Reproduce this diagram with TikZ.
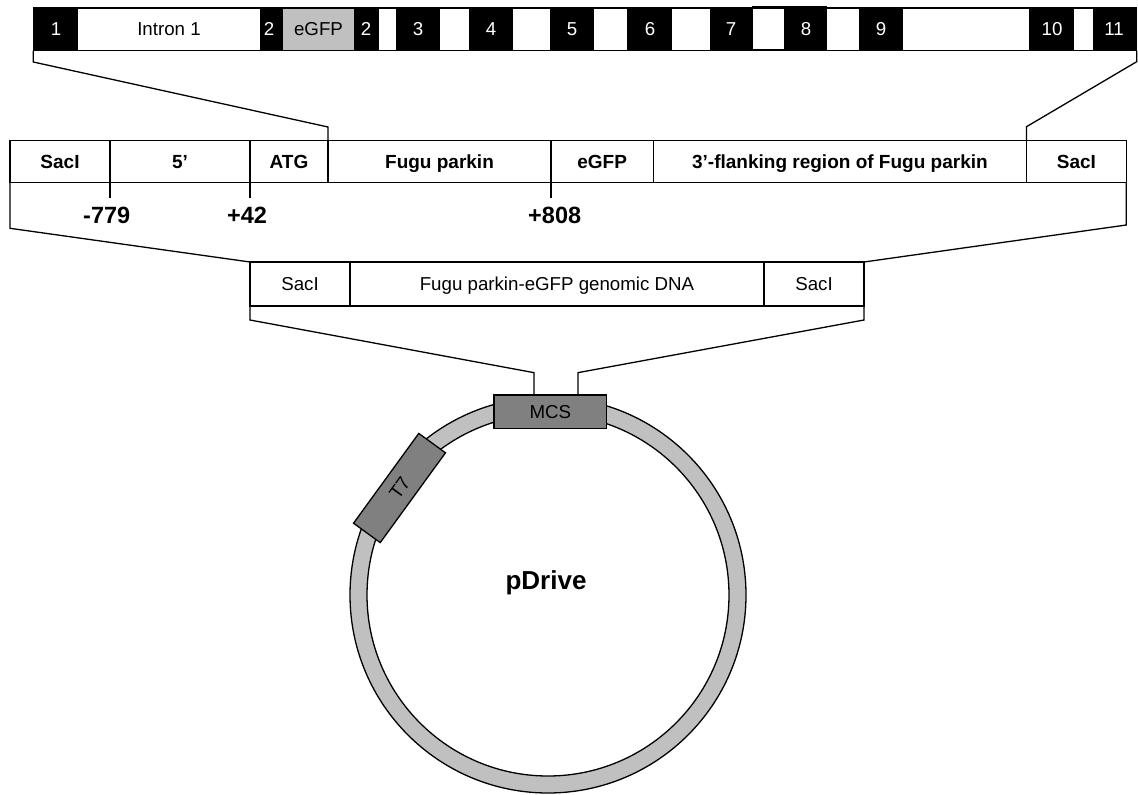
\documentclass[tikz,border=0pt]{standalone}
\usepackage{fontspec}
\setmainfont{Liberation Sans}
\usetikzlibrary{calc}
\definecolor{lgray}{HTML}{C0C0C0}
\definecolor{dgray}{HTML}{808080}
\begin{document}
\begin{tikzpicture}[x=1pt,y=-1pt,
  ln/.style={line width=1.3pt},
  blackbar/.style={fill=black,draw=none,anchor=north west,inner sep=0pt,outer sep=0pt},
  wseg/.style={fill=white,draw=none,anchor=north west,inner sep=0pt,outer sep=0pt,minimum height=41pt,text height=13.4pt,text depth=0pt,font=\fontsize{18.7}{20}\selectfont},
  gseg/.style={wseg,fill=lgray},
  wnum/.style={text=white,inner sep=0pt,text height=13.4pt,text depth=0pt,font=\fontsize{18.7}{20}\selectfont},
  cell/.style={draw,ln,anchor=north west,inner sep=0pt,outer sep=0pt,minimum height=42pt,text height=13.6pt,text depth=0pt,font=\fontsize{19}{21}\selectfont\bfseries},
  bcell/.style={cell,minimum height=44pt,text height=13.4pt,font=\fontsize{18.7}{20}\selectfont},
  poslbl/.style={inner sep=0pt,text height=16.8pt,text depth=0pt,font=\fontsize{23.5}{25}\selectfont\bfseries},
  gbox/.style={draw,ln,fill=dgray,inner sep=0pt,outer sep=0pt,text height=13.4pt,text depth=0pt,font=\fontsize{18.7}{20}\selectfont},
]
\useasboundingbox (0,0) rectangle (1138,795);

% ---------- top exon/intron bar ----------
\node[blackbar,minimum width=1103.4pt,minimum height=43.4pt] (topbar) at (33.3,7.3) {};
\node[blackbar,minimum width=75pt,minimum height=44.7pt] (box78) at (752,6) {};
\node[wseg,minimum width=182pt] (intron) at (78,8.5) {Intron 1};
\node[gseg,minimum width=71pt] (egfp) at (283,8.5) {eGFP};
\node[wseg,minimum width=17pt] (w2) at (379,8.5) {};
\node[wseg,minimum width=29pt] (w3) at (440,8.5) {};
\node[wseg,minimum width=37pt] (w4) at (513,8.5) {};
\node[wseg,minimum width=33pt] (w5) at (594,8.5) {};
\node[wseg,minimum width=38pt] (w6) at (672,8.5) {};
\node[wseg,minimum width=31pt,minimum height=40pt] (w7) at (753,8.5) {};
\node[wseg,minimum width=32pt] (w8) at (827,8.5) {};
\node[wseg,minimum width=126pt] (w9) at (903,8.5) {};
\node[wseg,minimum width=19pt] (w10) at (1074,8.5) {};
\node[wnum] (e1) at (56,29) {1};
\node[wnum] (e2a) at (269,29) {2};
\node[wnum] (e2b) at (366,29) {2};
\node[wnum] (e3) at (418,29) {3};
\node[wnum] (e4) at (491,29) {4};
\node[wnum] (e5) at (572,29) {5};
\node[wnum] (e6) at (650,29) {6};
\node[wnum] (e7) at (731,29) {7};
\node[wnum] (e8) at (806,29) {8};
\node[wnum] (e9) at (881,29) {9};
\node[wnum] (e10) at (1052,29) {10};
\node[wnum] (e11) at (1114,29) {11};

% ---------- construct bar ----------
\node[cell,minimum width=100pt] (m1) at (10,140.7) {SacI};
\node[cell,minimum width=140pt] (m2) at (110,140.7) {5’};
\node[cell,minimum width=78pt] (m3) at (250,140.7) {ATG};
\node[cell,minimum width=223pt] (m4) at (328,140.7) {Fugu parkin};
\node[cell,minimum width=102.3pt] (m5) at (551,140.7) {eGFP};
\node[cell,minimum width=373.2pt] (m6) at (653.3,140.7) {3’-flanking region of Fugu parkin};
\node[cell,minimum width=99.8pt] (m7) at (1026.5,140.7) {SacI};

\draw[ln] (topbar.south west) -- ++(0,11.3) -- ($(m4.north west)+(0,-13.7)$) -- (m4.north west);
\draw[ln] (topbar.south east) -- ++(0,11) -- ($(m7.north west)+(0,-14)$) -- (m7.north west);

\draw[ln] (m2.south west) -- ++(0,15.5);
\draw[ln] (m3.south west) -- ++(0,15.5);
\draw[ln] (m5.south west) -- ++(0,15.5);
\node[poslbl] (p779) at (106.7,215) {-779};
\node[poslbl] (p42) at (247,215) {+42};
\node[poslbl] (p808) at (554.7,215) {+808};

% ---------- insert bar ----------
\node[bcell,minimum width=100pt] (b1) at (250,262) {SacI};
\node[bcell,minimum width=414pt] (b2) at (350,262) {Fugu parkin-eGFP genomic DNA};
\node[bcell,minimum width=100pt] (b3) at (764,262) {SacI};

\draw[ln] (m1.south west) -- ++(0,45.6) -- (b1.north west);
\draw[ln] (m7.south east) -- ++(0,42.3) -- (b3.north east);

% ---------- plasmid ----------
\path[fill=lgray,even odd rule,draw=black,ln] (548,595) circle[radius=198pt] (548,595) circle[radius=181pt];
\node[gbox,minimum width=112.7pt,minimum height=33.3pt] (mcs) at (550.3,411.6) {MCS};
\node[gbox,rotate=54,minimum width=111pt,minimum height=33pt] (t7) at (399.5,488) {T7};
\node[font=\fontsize{26}{28}\selectfont\bfseries] (pd) at (546,583) {pDrive};

\draw[ln] (b1.south west) -- ++(0,14) -- ($(mcs.north west)+(40,-22.3)$) -- ($(mcs.north west)+(40,0)$);
\draw[ln] (b3.south east) -- ++(0,14) -- ($(mcs.north east)+(-28.7,-22.3)$) -- ($(mcs.north east)+(-28.7,0)$);
\end{tikzpicture}
\end{document}
